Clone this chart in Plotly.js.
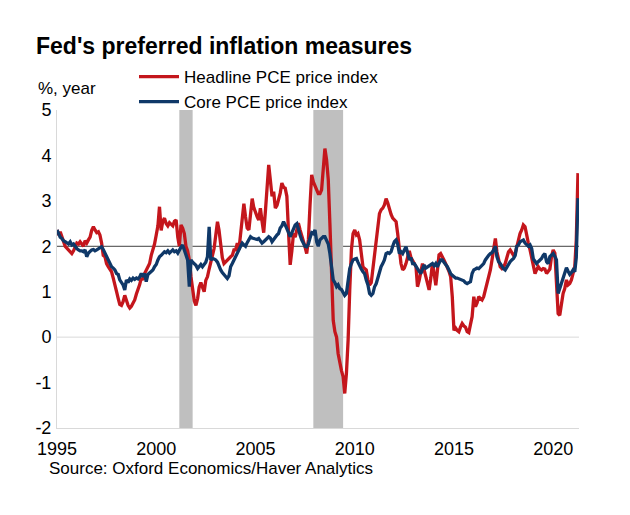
<!DOCTYPE html>
<html>
<head>
<meta charset="utf-8">
<script src="https://cdn.plot.ly/plotly-3.0.1.min.js"></script>
<style>html,body{margin:0;padding:0;background:#fff;}#chart{width:630px;height:515px;}</style>
</head>
<body>
<div id="chart"></div>
<script>
// Monthly year-on-year % change, Jan 1995 – Apr 2021
const startYear = 1995;
const headline = [
  2.36, 2.25, 2.32, 2.20, 2.10, 2.00, 1.96, 1.92, 1.88, 1.84, 1.90, 2.00, // 1995
  2.07, 2.05, 2.10, 2.05, 2.00, 2.12, 2.07, 2.14, 2.20, 2.35, 2.43, 2.36, // 1996
  2.30, 2.32, 2.25, 2.07, 1.80, 1.77, 1.62, 1.55, 1.50, 1.44, 1.30, 1.18, // 1997
  1.00, 0.85, 0.72, 0.70, 0.78, 0.92, 0.80, 0.70, 0.64, 0.68, 0.75, 0.82, // 1998
  0.95, 1.04, 1.15, 1.30, 1.26, 1.40, 1.48, 1.55, 1.62, 1.80, 1.92, 2.05, // 1999
  2.25, 2.45, 2.87, 2.35, 2.55, 2.62, 2.50, 2.45, 2.52, 2.48, 2.45, 2.55, // 2000
  2.58, 2.20, 2.00, 2.47, 2.40, 2.28, 2.00, 1.90, 1.70, 1.33, 1.00, 0.80, // 2001
  0.70, 0.85, 1.10, 1.20, 1.10, 1.00, 1.25, 1.33, 1.50, 1.62, 1.80, 1.95, // 2002
  2.21, 2.54, 2.36, 2.00, 1.75, 1.62, 1.66, 1.70, 1.75, 1.77, 1.80, 1.92, // 2003
  1.92, 2.07, 1.92, 2.25, 2.60, 2.94, 2.65, 2.40, 2.36, 2.80, 3.05, 2.85, // 2004
  2.72, 2.65, 2.58, 2.84, 2.55, 2.30, 2.75, 3.24, 3.79, 3.46, 3.10, 3.20, // 2005
  2.84, 2.90, 3.02, 3.17, 3.39, 3.30, 3.28, 3.10, 2.30, 1.59, 1.90, 2.28, // 2006
  2.20, 2.40, 2.51, 2.36, 2.25, 2.14, 1.99, 1.84, 2.14, 2.90, 3.57, 3.42, // 2007
  3.31, 3.24, 3.16, 3.16, 3.24, 3.75, 4.15, 3.90, 3.46, 2.50, 1.40, 0.37, // 2008
  0.12, 0.00, -0.36, -0.58, -0.73, -0.87, -1.24, -0.80, -0.07, 1.04, 1.92, 2.28, // 2009
  2.36, 2.25, 2.28, 2.14, 1.84, 1.55, 1.51, 1.48, 1.26, 1.15, 1.20, 1.50, // 2010
  1.84, 2.14, 2.50, 2.72, 2.80, 2.84, 2.91, 3.05, 2.95, 2.80, 2.70, 2.62, // 2011
  2.58, 2.54, 2.28, 1.84, 1.62, 1.48, 1.52, 1.62, 1.80, 1.90, 1.75, 1.70, // 2012
  1.62, 1.55, 1.11, 1.25, 1.45, 1.62, 1.48, 1.33, 1.20, 1.04, 1.30, 1.62, // 2013
  1.40, 1.14, 1.45, 1.81, 1.84, 1.75, 1.70, 1.62, 1.55, 1.45, 1.33, 0.89, // 2014
  0.15, 0.20, 0.15, 0.12, 0.22, 0.30, 0.25, 0.22, 0.12, 0.10, 0.28, 0.45, // 2015
  0.89, 0.67, 0.75, 0.89, 0.85, 0.82, 0.89, 1.04, 1.18, 1.40, 1.48, 1.70, // 2016
  1.92, 2.17, 1.88, 1.70, 1.55, 1.51, 1.55, 1.62, 1.77, 1.88, 1.92, 1.84, // 2017
  1.80, 1.84, 2.00, 2.14, 2.28, 2.36, 2.47, 2.43, 2.21, 2.07, 1.92, 1.77, // 2018
  1.55, 1.40, 1.48, 1.55, 1.50, 1.48, 1.51, 1.50, 1.40, 1.45, 1.50, 1.77, // 2019
  1.92, 1.85, 1.33, 0.52, 0.48, 0.74, 0.96, 1.07, 1.26, 1.15, 1.18, 1.26, // 2020
  1.40, 1.55, 2.14, 3.61                                                  // 2021
];
const core = [
  2.36, 2.25, 2.20, 2.17, 2.12, 2.10, 2.08, 2.05, 2.10, 2.03, 2.05, 1.99, // 1995
  1.95, 1.92, 1.90, 1.90, 1.88, 1.92, 1.77, 1.85, 1.90, 1.92, 1.93, 1.90, // 1996
  1.92, 1.95, 1.96, 1.99, 1.93, 1.85, 1.77, 1.70, 1.60, 1.55, 1.52, 1.48, // 1997
  1.40, 1.38, 1.26, 1.20, 1.15, 1.04, 1.26, 1.20, 1.28, 1.25, 1.30, 1.27, // 1998
  1.30, 1.28, 1.32, 1.40, 1.33, 1.40, 1.22, 1.38, 1.42, 1.45, 1.48, 1.55, // 1999
  1.60, 1.70, 1.77, 1.80, 1.85, 1.88, 1.86, 1.90, 1.85, 1.88, 1.92, 1.88, // 2000
  1.90, 1.85, 1.92, 1.98, 2.03, 1.90, 1.77, 1.70, 1.11, 1.70, 1.65, 1.62, // 2001
  1.58, 1.51, 1.55, 1.60, 1.55, 1.59, 1.65, 1.77, 2.43, 1.70, 1.73, 1.72, // 2002
  1.70, 1.65, 1.55, 1.48, 1.42, 1.37, 1.32, 1.29, 1.35, 1.55, 1.62, 1.70, // 2003
  1.75, 1.85, 1.92, 2.00, 2.07, 2.03, 2.00, 2.08, 2.14, 2.21, 2.18, 2.17, // 2004
  2.17, 2.15, 2.17, 2.12, 2.07, 2.10, 2.14, 2.17, 2.21, 2.18, 2.10, 2.15, // 2005
  2.21, 2.25, 2.28, 2.40, 2.45, 2.54, 2.47, 2.40, 2.30, 2.21, 2.30, 2.38, // 2006
  2.47, 2.50, 2.36, 2.25, 2.14, 2.05, 2.00, 1.99, 2.05, 2.18, 2.30, 2.28, // 2007
  2.36, 2.10, 2.00, 2.14, 2.18, 2.21, 2.21, 2.14, 2.05, 1.84, 1.55, 1.26, // 2008
  1.20, 1.11, 1.15, 1.07, 1.05, 0.96, 0.92, 0.96, 1.26, 1.51, 1.62, 1.70, // 2009
  1.72, 1.73, 1.65, 1.55, 1.50, 1.44, 1.40, 1.26, 1.15, 0.96, 0.92, 0.96, // 2010
  1.11, 1.18, 1.30, 1.48, 1.55, 1.62, 1.70, 1.84, 1.86, 1.84, 1.88, 2.00, // 2011
  2.10, 2.14, 2.05, 1.84, 1.88, 1.84, 1.92, 1.99, 1.85, 1.70, 1.75, 1.62, // 2012
  1.62, 1.55, 1.51, 1.45, 1.40, 1.48, 1.59, 1.52, 1.55, 1.58, 1.59, 1.62, // 2013
  1.57, 1.62, 1.55, 1.62, 1.70, 1.70, 1.66, 1.60, 1.55, 1.45, 1.40, 1.36, // 2014
  1.33, 1.30, 1.30, 1.28, 1.26, 1.26, 1.24, 1.20, 1.18, 1.20, 1.22, 1.40, // 2015
  1.48, 1.50, 1.52, 1.51, 1.55, 1.58, 1.62, 1.70, 1.77, 1.80, 1.84, 1.86, // 2016
  1.92, 2.00, 1.77, 1.66, 1.62, 1.55, 1.51, 1.48, 1.55, 1.62, 1.66, 1.70, // 2017
  1.73, 1.80, 2.00, 2.03, 2.10, 2.12, 2.14, 2.07, 2.03, 2.00, 2.03, 1.95, // 2018
  1.72, 1.68, 1.62, 1.66, 1.70, 1.73, 1.80, 1.84, 1.66, 1.62, 1.77, 1.81, // 2019
  1.84, 1.78, 1.70, 0.96, 1.08, 1.18, 1.33, 1.45, 1.53, 1.45, 1.38, 1.42, // 2020
  1.48, 1.44, 1.75, 3.06                                                  // 2021
];
const seriesNames = ['Headline PCE price index', 'Core PCE price index'];
const recessionStart = ['2001-03-01', '2007-12-01'];
const recessionEnd   = ['2001-11-01', '2009-06-01'];
const tickYears = [1995, 2000, 2005, 2010, 2015, 2020];
const yTicks = [-2, -1, 0, 1, 2, 3, 4, 5];
const targetRate = 2;

const dates = headline.map((_, i) => {
  const y = startYear + Math.floor(i / 12);
  const m = (i % 12) + 1;
  return y + '-' + (m < 10 ? '0' + m : m) + '-01';
});

const FONT = 'Liberation Sans, Arial, Helvetica, sans-serif';
const RED = '#c4161c';
const NAVY = '#0f3868';

const traces = [
  { x: dates, y: headline, type: 'scatter', mode: 'lines', name: seriesNames[0],
    line: { color: RED, width: 3.3 } },
  { x: dates, y: core, type: 'scatter', mode: 'lines', name: seriesNames[1],
    line: { color: NAVY, width: 3.3 } }
];

const shapes = [
  { type: 'line', xref: 'paper', x0: 0, x1: 1, yref: 'y', y0: 0, y1: 0,
    line: { color: '#d9d9d9', width: 1 }, layer: 'below' },
  { type: 'line', xref: 'paper', x0: 0, x1: 1, yref: 'y', y0: targetRate, y1: targetRate,
    line: { color: '#404040', width: 1 }, layer: 'below' }
];
recessionStart.forEach((s, i) => {
  shapes.push({ type: 'rect', xref: 'x', x0: s, x1: recessionEnd[i], yref: 'paper', y0: 0, y1: 1,
    fillcolor: '#bfbfbf', line: { width: 0 }, layer: 'below' });
});

const layout = {
  width: 630, height: 515,
  margin: { l: 57, r: 51, t: 110, b: 87 },
  paper_bgcolor: '#ffffff', plot_bgcolor: '#ffffff',
  font: { family: FONT, size: 17, color: '#000000' },
  title: { text: "Fed's preferred inflation measures", xref: 'container', yref: 'container',
    x: 36 / 630, xanchor: 'left', y: 1 - 46 / 515, yanchor: 'middle',
    font: { family: FONT, size: 23, weight: 700, color: '#000000' } },
  showlegend: true,
  legend: { x: (134 - 57) / 522, xanchor: 'left', y: (428 - 59) / 318, yanchor: 'top',
    itemwidth: 40,
    bgcolor: 'rgba(0,0,0,0)', font: { family: FONT, size: 17, color: '#000000' },
    traceorder: 'normal' },
  xaxis: { type: 'date', range: ['1995-01-01', '2021-04-20'],
    tickmode: 'array', tickvals: tickYears.map(y => y + '-01-01'), ticktext: tickYears.map(String),
    showgrid: false, zeroline: false, showline: true, linecolor: '#d9d9d9', linewidth: 1,
    ticks: '', ticklabelstandoff: 4, tickfont: { family: FONT, size: 18, color: '#000000' } },
  yaxis: { range: [-2, 5], tickmode: 'array', tickvals: yTicks, ticktext: yTicks.map(String),
    showgrid: false, zeroline: false, showline: true, linecolor: '#d9d9d9', linewidth: 1,
    ticks: '', ticklabelstandoff: 1, tickfont: { family: FONT, size: 18, color: '#000000' } },
  shapes: shapes,
  annotations: [
    { text: '%, year', xref: 'paper', yref: 'paper', x: (36 - 57) / 522, y: (428 - 89) / 318,
      xanchor: 'left', yanchor: 'middle', showarrow: false,
      font: { family: FONT, size: 17, color: '#000000' } },
    { text: 'Source: Oxford Economics/Haver Analytics', xref: 'paper', yref: 'paper',
      x: (47 - 57) / 522, y: (428 - 468) / 318, xanchor: 'left', yanchor: 'middle', showarrow: false,
      font: { family: FONT, size: 17, color: '#000000' } }
  ]
};

Plotly.newPlot('chart', traces, layout, { displayModeBar: false, staticPlot: true });
</script>
</body>
</html>
